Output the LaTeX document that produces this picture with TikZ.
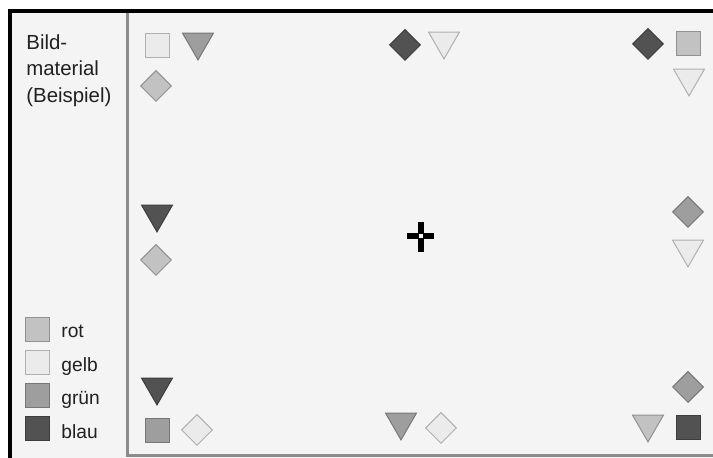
\documentclass[tikz,border=0pt]{standalone}
\usepackage{fontspec}
\setmainfont{Liberation Sans}
\usetikzlibrary{shapes.geometric}
\definecolor{rotc}{gray}{0.76}
\definecolor{gelbc}{gray}{0.92}
\definecolor{gruenc}{gray}{0.62}
\definecolor{blauc}{gray}{0.32}
\definecolor{paper}{gray}{0.955}
\definecolor{framegray}{gray}{0.55}
\definecolor{inkgray}{gray}{0.13}
\tikzset{
  sqmark/.style={draw=#1!75!black, fill=#1, line width=0.5pt, minimum size=12pt, inner sep=0pt, outer sep=0pt},
  trimark/.style={regular polygon, regular polygon sides=3, shape border rotate=180, draw=#1!75!black, fill=#1, line width=0.5pt, minimum size=17.9pt, inner sep=0pt},
  diamark/.style={diamond, draw=#1!75!black, fill=#1, line width=0.5pt, minimum width=15.5pt, minimum height=15.5pt, inner sep=0pt},
  legtext/.style={font=\fontsize{9.6}{11}\selectfont, text=inkgray, anchor=base west, inner sep=0pt},
}
\begin{document}
\begin{tikzpicture}[x=0.5pt,y=-0.5pt]
  \useasboundingbox (0,0) rectangle (713,458);
  % paper and frames
  \fill[white] (0,0) rectangle (713,458);
  \fill[paper] (10,11) rectangle (713,458);
  \draw[framegray, line width=1.5pt] (127,13) -- (127,456) -- (713,456);
  \draw[black, line width=2pt, line join=miter] (10,458) -- (10,11) -- (713,11);

  % caption at top left
  \node[legtext, anchor=north west, align=left, font=\fontsize{10.2}{13.3}\selectfont] (caption) at (26,34) {Bild-\\material\\(Beispiel)};

  % colour legend
  \foreach \i/\name/\col in {0/rot/rotc, 1/gelb/gelbc, 2/grün/gruenc, 3/blau/blauc} {
    \node[sqmark=\col] (leg\i) at (37, 330+\i*33) {};
    \node[legtext] (lab\i) at (61, 338+\i*33.5) {\name};
  }

  % squares
  \foreach \n/\x/\y/\col in {a/157/46/gelbc, b/688/44/rotc, c/157/431/gruenc, d/688/428/blauc}
    \node[sqmark=\col] (sq\n) at (\x,\y) {};

  % triangles
  \foreach \n/\x/\y/\col in {a/198/42/gruenc, b/444/41/gelbc, c/689/78/gelbc, d/157/214/blauc,
      e/688/249/gelbc, f/157/387/blauc, g/401/422/gruenc, h/648/424/rotc}
    \node[trimark=\col] (tri\n) at (\x,\y) {};

  % diamonds
  \foreach \n/\x/\y/\col in {a/156/86/rotc, b/405/45/blauc, c/648/44/blauc, d/156/260/rotc,
      e/688/212/gruenc, f/688/387/gruenc, g/197/430/gelbc, h/441/428/gelbc}
    \node[diamark=\col] (dia\n) at (\x,\y) {};

  % crosshair in the middle
  \coordinate (cross) at (421,236);
  \draw[line width=3pt] (cross) ++(-14,0) -- ++(27,0);
  \draw[line width=3pt] (cross) ++(0,-14) -- ++(0,30);
  \fill[paper] (cross) ++(-1.8,-1.8) rectangle ++(3.6,3.6);
\end{tikzpicture}
\end{document}
